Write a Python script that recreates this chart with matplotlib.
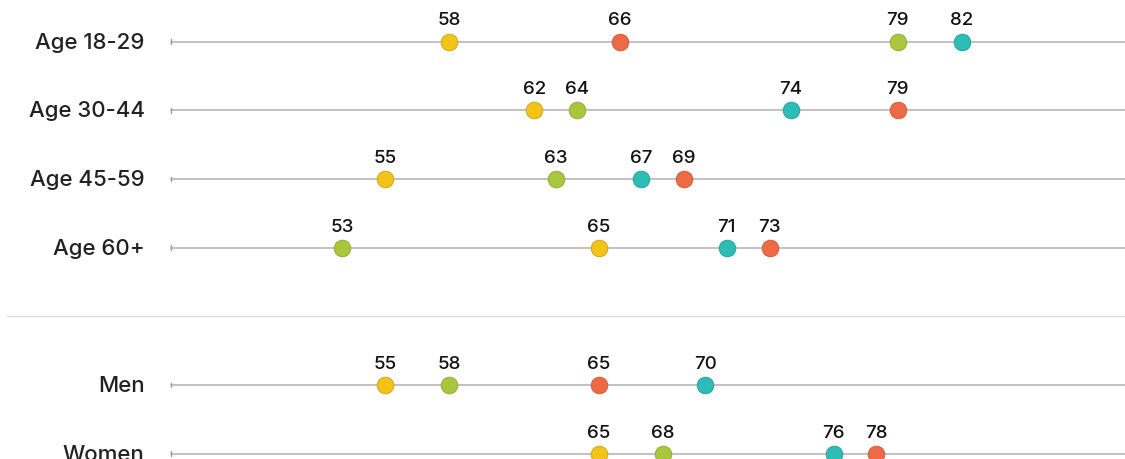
import matplotlib
matplotlib.use("Agg")
import matplotlib.pyplot as plt

# rows, top to bottom (None marks the gap with the divider)
categories = ["Age 18-29", "Age 30-44", "Age 45-59", "Age 60+", None, "Men", "Women"]

yellow_vals = [58, 62, 55, 65, None, 55, 65]
red_vals    = [66, 79, 69, 73, None, 65, 78]
green_vals  = [79, 64, 63, 53, None, 58, 68]
teal_vals   = [82, 74, 67, 71, None, 70, 76]

series = [
    (yellow_vals, "#F2C417", "#C9A010"),
    (red_vals,    "#EE6A45", "#C85535"),
    (green_vals,  "#AAC63C", "#8CA52E"),
    (teal_vals,   "#2CBDB6", "#219A94"),
]

plt.rcParams['font.family'] = ['Inter', 'DejaVu Sans']

fig = plt.figure(figsize=(11.25, 4.6), dpi=100)
ax = fig.add_axes([0, 0, 1, 1])
ax.set_xlim(37, 89.63)
ax.set_ylim(6.077, -0.619)
ax.axis('off')

line_start = 45
for i, cat in enumerate(categories):
    if cat is None:
        ax.axhline(i, xmin=0.006, xmax=1, color="#dcdcdc", lw=1.0, zorder=1)
        continue
    ax.plot([line_start, 95], [i, i], color="#b0b0b0", lw=1.1, zorder=1)
    ax.plot([line_start, line_start], [i - 0.035, i + 0.035], color="#999999", lw=0.9, zorder=1)
    ax.annotate(cat, (line_start, i), xytext=(-19, 0), textcoords='offset points',
                ha='right', va='center', fontsize=16, fontweight='medium', color="#222222")

for vals, fc, ec in series:
    for i, v in enumerate(vals):
        if v is None:
            continue
        ax.plot(v, i, 'o', ms=12, mfc=fc, mec=ec, mew=0.6, zorder=3)
        ax.annotate(str(v), (v, i), xytext=(0, 15.5), textcoords='offset points',
                    ha='center', va='center', fontsize=13.5, fontweight='medium', color="#111111")

fig.savefig("out.png", dpi=100)
